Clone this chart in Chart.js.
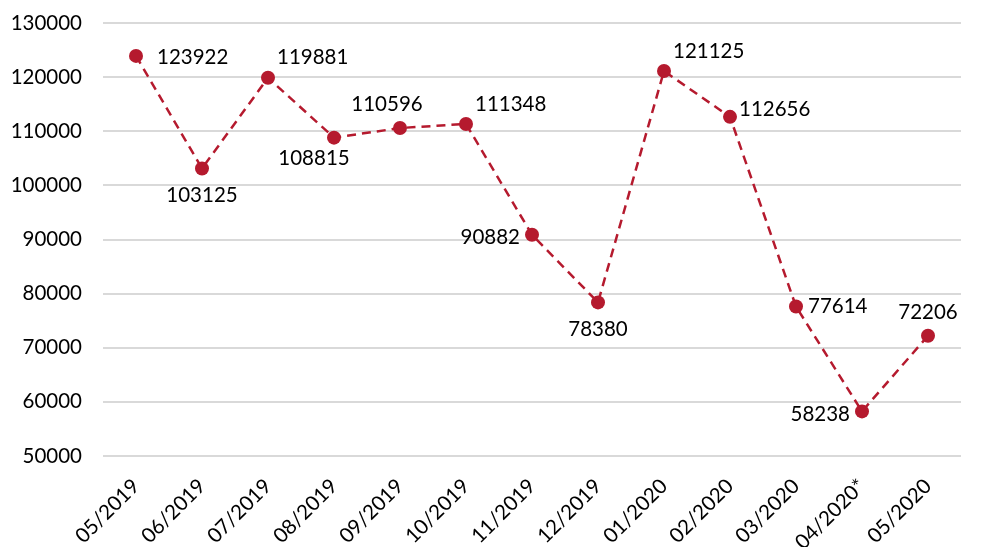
<!DOCTYPE html>
<html>
<head>
<meta charset="utf-8">
<script src="https://cdn.jsdelivr.net/npm/chart.js@4.4.1/dist/chart.umd.min.js"></script>
<style>
  html, body { margin: 0; padding: 0; background: #fff; }
  #wrap { width: 982px; height: 547px; }
</style>
</head>
<body>
<div id="wrap"><canvas id="lineCanvas"></canvas></div>
<script>
// months shown on the x axis
var months = ['05/2019', '06/2019', '07/2019', '08/2019', '09/2019', '10/2019', '11/2019',
	'12/2019', '01/2020', '02/2020', '03/2020', '04/2020*', '05/2020'];
// values per month
var totals = [123922, 103125, 119881, 108815, 110596, 111348, 90882,
	78380, 121125, 112656, 77614, 58238, 72206];
// y axis range
var yMin = 50000;
var yMax = 130000;
var yStep = 10000;

var red = '#b51a2e';
var fontFamily = 'Lato, "Open Sans", sans-serif';

// where each value label goes, relative to its point
var labelSide = ['rightWide', 'below', 'aboveRight', 'belowLeft', 'aboveLeft', 'aboveRight', 'left',
	'below', 'aboveRight', 'rightUp', 'right', 'left', 'above'];

// small plugin to write the values next to the points
var pointLabels = {
	id: 'pointLabels',
	afterDatasetsDraw: function(chart) {
		var ctx = chart.ctx;
		var meta = chart.getDatasetMeta(0);
		ctx.save();
		ctx.font = '20.5px ' + fontFamily;
		ctx.fillStyle = '#000';
		meta.data.forEach(function(pt, i) {
			var txt = String(totals[i]);
			var x = pt.x, y = pt.y;
			ctx.textBaseline = 'middle';
			switch (labelSide[i]) {
				case 'right': ctx.textAlign = 'left'; x += 12; y += 0; break;
				case 'rightWide': ctx.textAlign = 'left'; x += 21; y += 1; break;
				case 'rightUp': ctx.textAlign = 'left'; x += 9; y -= 7; break;
				case 'left': ctx.textAlign = 'right'; x -= 12; y += 3; break;
				case 'below': ctx.textAlign = 'center'; y += 27; break;
				case 'above': ctx.textAlign = 'center'; y -= 23; break;
				case 'belowLeft': ctx.textAlign = 'center'; x -= 20; y += 21; break;
				case 'aboveLeft': ctx.textAlign = 'center'; x -= 13; y -= 24; break;
				case 'aboveRight': ctx.textAlign = 'left'; x += 9; y -= 20; break;
			}
			ctx.fillText(txt, x, y);
		});
		ctx.restore();
	}
};

var chartdata = {
	labels: months,
	datasets: [
		{
			label: 'Total',
			data: totals,
			borderColor: red,
			backgroundColor: red,
			borderWidth: 2.5,
			borderDash: [9, 6],
			pointRadius: 7,
			pointHoverRadius: 7,
			pointBackgroundColor: red,
			pointBorderWidth: 0,
			tension: 0
		}
	]
};

var ctx = document.getElementById('lineCanvas');
var lineGraph = new Chart(ctx, {
	type: 'line',
	data: chartdata,
	plugins: [pointLabels],
	options: {
		responsive: true,
		maintainAspectRatio: false,
		animation: false,
		layout: { padding: { top: 23, right: 21, left: 0, bottom: 0 } },
		plugins: {
			legend: { display: false },
			tooltip: { enabled: false }
		},
		scales: {
			x: {
				offset: true,
				grid: { display: false },
				border: { display: false },
				ticks: {
					color: '#000',
					font: { family: fontFamily, size: 20.5 },
					maxRotation: 45,
					minRotation: 45,
					padding: 10,
					autoSkip: false
				},
				afterFit: function(scale) {
					scale.height = 91;
					scale.paddingLeft = 0;
					scale.paddingRight = 0;
				}
			},
			y: {
				min: yMin,
				max: yMax,
				grid: { color: '#d9d9d9', lineWidth: 2, drawTicks: false },
				border: { display: false },
				ticks: {
					stepSize: yStep,
					color: '#000',
					font: { family: fontFamily, size: 20.5 },
					padding: 21,
					callback: function(v) { return String(v); }
				},
				afterFit: function(scale) {
					scale.width = 103;
					scale.paddingTop = 0;
					scale.paddingBottom = 0;
				}
			}
		}
	}
});
</script>
</body>
</html>
